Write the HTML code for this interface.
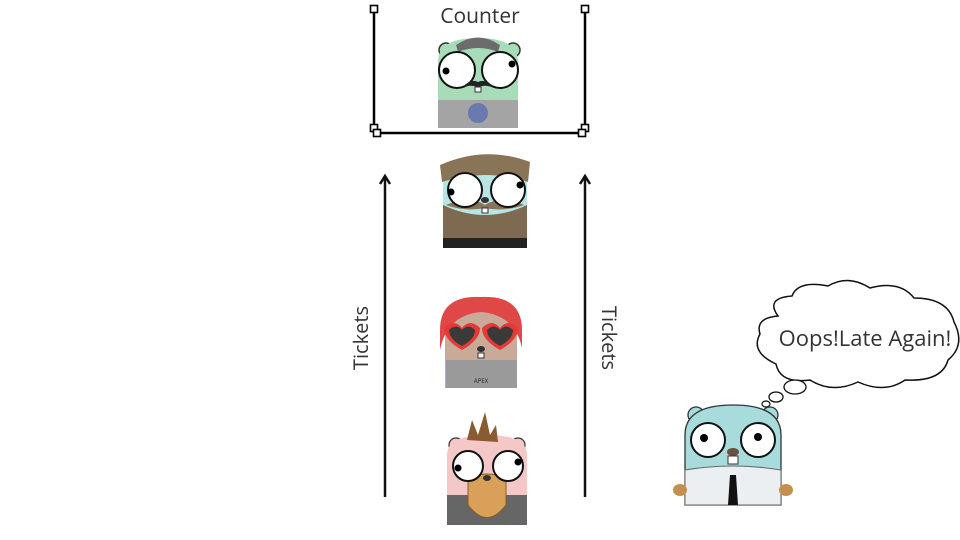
<!DOCTYPE html>
<html><head><meta charset="utf-8"><style>
html,body{margin:0;padding:0;background:#fff;}
svg{display:block;font-family:"Open Sans","Liberation Sans",sans-serif;}
</style></head><body>
<svg width="960" height="540" viewBox="0 0 960 540" xmlns="http://www.w3.org/2000/svg">
<g stroke="#000" stroke-width="2.5" fill="none">
<line x1="374" y1="9" x2="374" y2="128"/>
<line x1="585" y1="9" x2="585" y2="128"/>
<line x1="377" y1="133" x2="582" y2="133"/>
</g>
<g stroke="#000" stroke-width="1.6" fill="#fff">
<rect x="370.5" y="5.5" width="7" height="7"/>
<rect x="581.5" y="5.5" width="7" height="7"/>
<rect x="370.5" y="124.5" width="7" height="7"/>
<rect x="373.5" y="129.5" width="7" height="7"/>
<rect x="581.5" y="124.5" width="7" height="7"/>
<rect x="578.5" y="129.5" width="7" height="7"/>
</g>
<text x="480" y="23" font-size="21" text-anchor="middle" fill="#333">Counter</text>

<g>
<circle cx="446" cy="50" r="7" fill="#a8dbb8" stroke="#333" stroke-width="1.5"/>
<circle cx="513" cy="50" r="7" fill="#a8dbb8" stroke="#333" stroke-width="1.5"/>
<path d="M438 128 V62 Q438 38 478 38 Q518 38 518 62 V128 Z" fill="#a8dbb8"/>
<path d="M456 45 Q478 30 500 45 L498 52 Q478 44 458 52 Z" fill="#6c6c6c"/>
<rect x="438" y="100" width="80" height="28" fill="#a4a4a4"/>
<circle cx="478" cy="113" r="10" fill="#6a7ab0"/>
<circle cx="457" cy="70" r="18" fill="#fff" stroke="#111" stroke-width="2"/>
<circle cx="500" cy="70" r="18" fill="#fff" stroke="#111" stroke-width="2"/>
<circle cx="446" cy="71" r="3.5" fill="#000"/>
<circle cx="512" cy="64" r="3.5" fill="#000"/>
<path d="M462 88 Q470 78 478 82 Q486 78 494 88 Q486 84 478 87 Q470 84 462 88Z" fill="#222"/>
<rect x="475" y="87" width="6" height="5" fill="#fff" stroke="#333"/>
</g>

<g>
<path d="M443 248 V180 Q443 160 485 160 Q527 160 527 180 V248 Z" fill="#b8e4e4"/>
<path d="M440 165 Q485 145 530 162 L528 182 Q485 168 442 182 Z" fill="#8a7458"/>
<path d="M443 205 Q485 225 527 205 V248 H443 Z" fill="#7d6a50"/>
<path d="M446 205 Q470 195 485 205 Q500 195 524 205 Q505 212 485 208 Q465 212 446 205Z" fill="#8a7458"/>
<rect x="443" y="238" width="84" height="10" fill="#222"/>
<circle cx="465" cy="190" r="17" fill="#fff" stroke="#111" stroke-width="2"/>
<circle cx="508" cy="190" r="17" fill="#fff" stroke="#111" stroke-width="2"/>
<circle cx="451" cy="192" r="3.5" fill="#000"/>
<circle cx="520" cy="185" r="3.5" fill="#000"/>
<ellipse cx="485" cy="200" rx="4" ry="3" fill="#333"/>
<rect x="482" y="208" width="6" height="5" fill="#fff" stroke="#333"/>
</g>

<g>
<path d="M445 388 V320 Q445 300 481 300 Q517 300 517 320 V388 Z" fill="#c9aa98"/>
<path d="M440 330 Q440 295 481 297 Q522 295 522 330 L522 348 Q515 315 481 312 Q447 315 440 350 Z" fill="#e04848"/>
<rect x="446" y="360" width="71" height="28" fill="#9a9a9a"/>
<path d="M444 328 q10-10 18 0 q8-10 18 0 q0 12-18 22 q-18-10-18-22z" fill="#e53935"/>
<path d="M482 328 q10-10 18 0 q8-10 18 0 q0 12-18 22 q-18-10-18-22z" fill="#e53935"/>
<path d="M449 330 q7-7 13 0 q6-7 13 0 q0 9-13 16 q-13-7-13-16z" fill="#3a3a3a"/>
<path d="M487 330 q7-7 13 0 q6-7 13 0 q0 9-13 16 q-13-7-13-16z" fill="#3a3a3a"/>
<ellipse cx="481" cy="349" rx="4" ry="3" fill="#333"/>
<rect x="478" y="353" width="6" height="5" fill="#fff" stroke="#333"/>
<text x="481" y="383" font-size="6" text-anchor="middle" fill="#222">APEX</text>
</g>

<g>
<circle cx="456" cy="445" r="7" fill="#f5c8c8" stroke="#333" stroke-width="1.2"/>
<circle cx="518" cy="445" r="7" fill="#f5c8c8" stroke="#333" stroke-width="1.2"/>
<path d="M447 525 V455 Q447 435 487 435 Q527 435 527 455 V525 Z" fill="#f5c8c8"/>
<path d="M467 440 L472 420 L478 435 L485 412 L490 435 L496 425 L498 442 Z" fill="#8a5a30"/>
<rect x="447" y="495" width="80" height="30" fill="#666"/>
<path d="M468 478 Q487 470 506 478 L506 505 Q487 530 468 505 Z" fill="#d9a05a" stroke="#8a5a20" stroke-width="1"/>
<circle cx="468" cy="466" r="15" fill="#fff" stroke="#111" stroke-width="2"/>
<circle cx="508" cy="466" r="15" fill="#fff" stroke="#111" stroke-width="2"/>
<circle cx="458" cy="468" r="3.5" fill="#000"/>
<circle cx="518" cy="462" r="3.5" fill="#000"/>
<ellipse cx="487" cy="478" rx="4" ry="3" fill="#333"/>
</g>

<g stroke="#111" stroke-width="2.5" fill="none">
<line x1="385" y1="497" x2="385" y2="177"/>
<polyline points="380,184 385,176 390,184"/>
<line x1="585" y1="497" x2="585" y2="177"/>
<polyline points="580,184 585,176 590,184"/>
</g>
<text transform="translate(368,338) rotate(-90)" font-size="20" text-anchor="middle" fill="#333">Tickets</text>
<text transform="translate(602,338) rotate(90)" font-size="20" text-anchor="middle" fill="#333">Tickets</text>

<path d="M778 316 Q765 298 792 296 Q798 280 828 286 Q848 274 870 288 Q900 280 914 298 Q948 298 954 322 Q966 345 948 360 Q942 382 905 380 Q885 394 858 382 Q832 394 810 380 Q780 384 776 364 Q750 352 760 334 Q755 318 778 316 Z" fill="#fff" stroke="#111" stroke-width="1.5"/>
<text x="865" y="346" font-size="22" text-anchor="middle" fill="#333">Oops!Late Again!</text>
<ellipse cx="795" cy="387" rx="11" ry="7" fill="#fff" stroke="#111" stroke-width="1.3"/>
<ellipse cx="776" cy="397" rx="7" ry="5" fill="#fff" stroke="#111" stroke-width="1.3"/>
<ellipse cx="766" cy="404" rx="4" ry="3" fill="#fff" stroke="#111" stroke-width="1.2"/>

<g>
<circle cx="696" cy="415" r="8" fill="#a8dcdc" stroke="#333" stroke-width="1.3"/>
<circle cx="770" cy="415" r="8" fill="#a8dcdc" stroke="#333" stroke-width="1.3"/>
<path d="M685 505 V435 Q685 405 733 405 Q781 405 781 435 V505 Z" fill="#a8dcdc" stroke="#333" stroke-width="1.3"/>
<path d="M685 470 Q733 462 781 470 V505 H685 Z" fill="#eceff2" stroke="#666" stroke-width="1"/>
<path d="M730 475 L736 475 L738 505 L728 505 Z" fill="#111"/>
<ellipse cx="680" cy="490" rx="7" ry="6" fill="#c49050"/>
<ellipse cx="786" cy="490" rx="7" ry="6" fill="#c49050"/>
<circle cx="708" cy="440" r="17" fill="#fff" stroke="#111" stroke-width="2"/>
<circle cx="758" cy="440" r="17" fill="#fff" stroke="#111" stroke-width="2"/>
<circle cx="704" cy="438" r="4" fill="#000"/>
<circle cx="758" cy="437" r="4" fill="#000"/>
<ellipse cx="733" cy="452" rx="6" ry="4" fill="#6a5040"/>
<rect x="728" y="456" width="10" height="8" fill="#fff" stroke="#333"/>
</g>
</svg>
</body></html>
